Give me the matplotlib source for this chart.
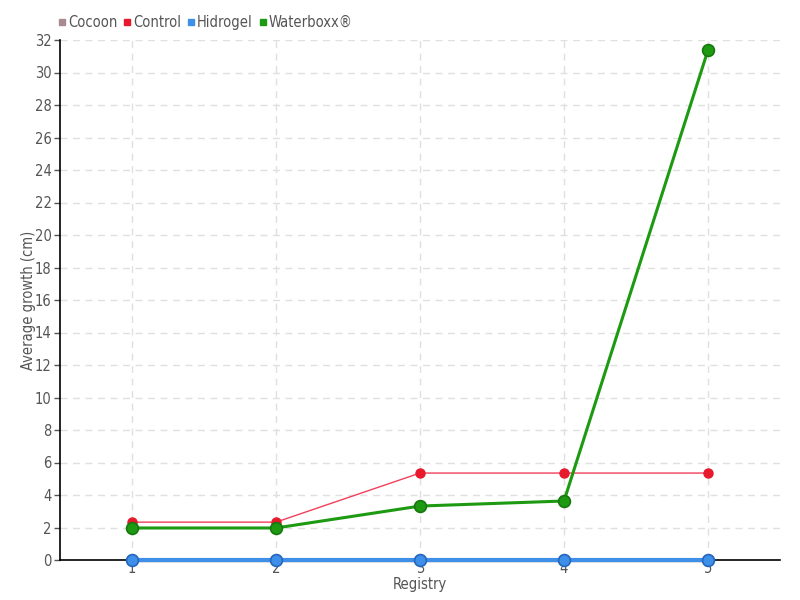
import matplotlib
matplotlib.use('Agg')
import matplotlib.pyplot as plt
from matplotlib.lines import Line2D

registry = [1, 2, 3, 4, 5]
cocoon = [0, 0, 0, 0, 0]
control = [2.33, 2.33, 5.35, 5.35, 5.35]
hidrogel = [0, 0, 0, 0, 0]
waterboxx = [1.97, 1.97, 3.32, 3.63, 31.38]

series_names = ['Cocoon', 'Control', 'Hidrogel', 'Waterboxx®']
colors = ['#a88a90', '#e8192c', '#3d8fe8', '#1e9a12']

plt.rcParams['font.family'] = ['DejaVu Sans']
plt.rcParams['font.stretch'] = 'condensed'
TXT = '#555555'

fig = plt.figure(figsize=(8, 6), dpi=100)
ax = fig.add_axes([60 / 800, 40 / 600, 720 / 800, 520 / 600])

ax.plot(registry, cocoon, color=colors[0], lw=2.5, marker='o', ms=8,
        markeredgecolor='#8a6a70', zorder=2, clip_on=False)
ax.plot(registry, hidrogel, color=colors[2], lw=3, marker='o', ms=8.5,
        markeredgecolor='#2468c0', markeredgewidth=1.2, zorder=3, clip_on=False)
ax.plot(registry, control, color='#f0405a', lw=1, marker='o', ms=6.5,
        markerfacecolor=colors[1], markeredgecolor=colors[1], zorder=4)
ax.plot(registry, waterboxx, color=colors[3], lw=2.2, marker='o', ms=8.5,
        markeredgecolor='#16780e', markeredgewidth=1.2, zorder=5, clip_on=False)

ax.set_xlim(0.5, 5.5)
ax.set_ylim(0, 32)
ax.set_xticks(registry)
ax.set_yticks(range(0, 33, 2))
ax.grid(True, color='#e0e0e0', linestyle=(0, (5, 4)), lw=1)
ax.set_axisbelow(True)

for s in ['top', 'right']:
    ax.spines[s].set_visible(False)
for s in ['left', 'bottom']:
    ax.spines[s].set_color('black')
    ax.spines[s].set_linewidth(1.2)
ax.tick_params(axis='y', colors='#555555', labelcolor=TXT, labelsize=10.5,
               length=4, width=1, pad=2)
ax.tick_params(axis='x', colors='#555555', labelcolor=TXT, labelsize=10.5,
               length=0, pad=1)

ax.set_xlabel('Registry', color=TXT, fontsize=10.5)
ax.set_ylabel('Average growth (cm)', color=TXT, fontsize=10.5)
ax.xaxis.set_label_coords(0.5, -17 / 520, transform=ax.transAxes)
ax.yaxis.set_label_coords(-24 / 720, 0.5, transform=ax.transAxes)

handles = [Line2D([], [], marker='s', linestyle='none', color=c, ms=4.5)
           for c in colors]
fig.legend(handles, series_names, loc='upper left', bbox_to_anchor=(43 / 800, 1 - 2 / 600),
           ncol=4, frameon=False, handletextpad=0.0, columnspacing=0.3,
           handlelength=0.8, fontsize=10.5, labelcolor=TXT)

fig.savefig('out.png', dpi=100)
